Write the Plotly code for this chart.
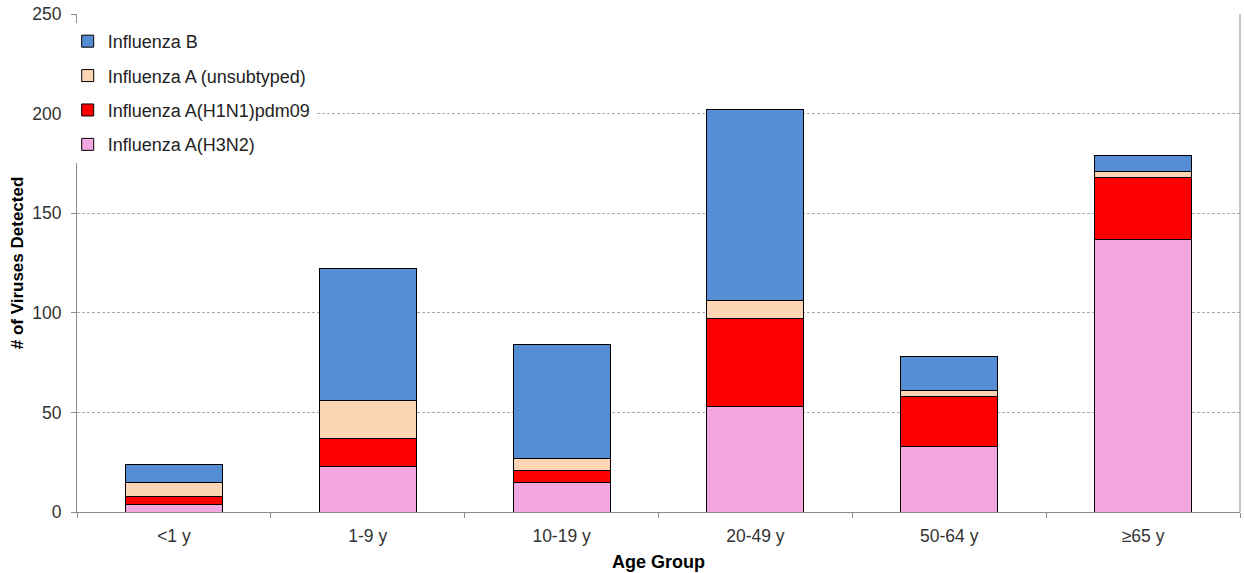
import plotly.graph_objects as go

categories = ["<1 y", "1-9 y", "10-19 y", "20-49 y", "50-64 y", "≥65 y"]
h3n2 = [4, 23, 15, 53, 33, 137]
h1n1 = [4, 14, 6, 44, 25, 31]
unsub = [7, 19, 6, 9, 3, 3]
infb = [9, 66, 57, 96, 17, 8]

series = [
    ("Influenza A(H3N2)", h3n2, "#F2A7E0", 4),
    ("Influenza A(H1N1)pdm09", h1n1, "#FF0000", 3),
    ("Influenza A (unsubtyped)", unsub, "#FCD5B5", 2),
    ("Influenza B", infb, "#558ED5", 1),
]

fig = go.Figure()
for i, (name, vals, col, rank) in enumerate(series):
    fig.add_trace(go.Bar(
        x=categories, y=vals, name=name, legendgroup=f"g{i}", legendrank=rank,
        marker=dict(color=col, line=dict(color="#000000", width=1)),
    ))

font_family = "Liberation Sans, Arial, sans-serif"
fig.update_layout(
    barmode="stack",
    bargap=0.5,
    width=1244, height=573,
    margin=dict(l=77, r=4, t=13, b=60),
    paper_bgcolor="white", plot_bgcolor="white",
    font=dict(family=font_family, size=17, color="#222222"),
    showlegend=True,
    legend=dict(
        x=-0.008, y=0.982, xanchor="left", yanchor="top",
        traceorder="grouped", tracegroupgap=8,
        bgcolor="white", borderwidth=0,
        font=dict(size=18, color="#222222", family=font_family),
    ),
    xaxis=dict(
        showline=True, linecolor="#8C8C8C", linewidth=1,
        ticks="outside", ticklen=5, tickcolor="#8C8C8C", tickson="boundaries",
        tickfont=dict(size=17.5, color="#333333"), ticklabelstandoff=8,
        title=dict(text="<b>Age Group</b>", font=dict(size=18, color="#000000"), standoff=10),
    ),
    yaxis=dict(
        range=[0, 250], dtick=50,
        showline=True, linecolor="#8C8C8C", linewidth=1,
        ticks="outside", ticklen=5, tickcolor="#8C8C8C",
        tickfont=dict(size=17.5, color="#333333"), ticklabelstandoff=6,
        showgrid=True, gridcolor="#ABABAB", griddash="3px,2px", gridwidth=1,
        zeroline=False,
        title=dict(text="<b># of Viruses Detected</b>", font=dict(size=17, color="#000000"), standoff=4),
    ),
)
fig.add_shape(type="line", xref="paper", yref="paper", x0=1, x1=1, y0=0, y1=1,
              line=dict(color="#8C8C8C", width=1))

fig.write_html("out.html", config={"displayModeBar": False},
               post_script="document.body.style.margin='0';")
